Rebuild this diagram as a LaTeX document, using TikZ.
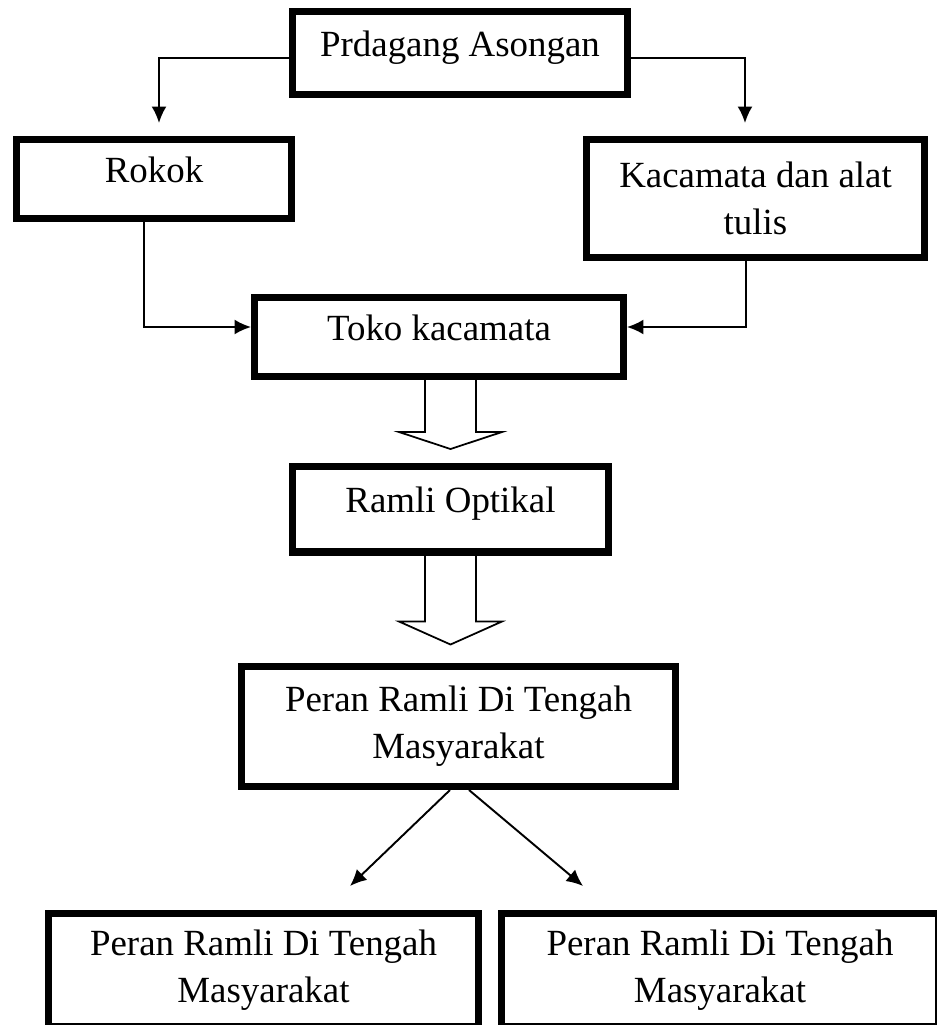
\documentclass[tikz,border=0pt]{standalone}
\usepackage{fontspec}
\setmainfont{Liberation Serif}
\usetikzlibrary{arrows.meta,calc}

\tikzset{
  box/.style={draw, rectangle, line width=4pt, inner sep=0pt, align=center,
    font=\fontsize{21}{26.7}\selectfont},
  oneline/.style={text height=0.7em, text depth=0.33em},
  conn/.style={line width=1.1pt, -{Latex[length=0.33cm,width=0.3cm]}},
  hollow/.style={line width=1pt},
}

\begin{document}
\begin{tikzpicture}[x=0.02cm, y=-0.02cm]
    \useasboundingbox (0,0) rectangle (937,1025);
    \clip (0,0) rectangle (937,1025);

    \node[box, oneline, minimum width=6.7cm, minimum height=1.66cm] (asongan) at (460,53) {Prdagang Asongan};
    \node[box, oneline, minimum width=5.5cm, minimum height=1.58cm] (rokok) at (154,179) {Rokok};
    \node[box, minimum width=6.76cm, minimum height=2.36cm] (kaca) at (755.5,198.5) {Kacamata dan alat\\tulis};
    \node[box, oneline, minimum width=7.38cm, minimum height=1.58cm] (toko) at (439,337) {Toko kacamata};
    \node[box, oneline, minimum width=6.32cm, minimum height=1.72cm] (ramli) at (450.5,509) {Ramli Optikal};
    \node[box, minimum width=8.68cm, minimum height=2.4cm] (peran) at (458.5,726.5) {Peran Ramli Di Tengah\\Masyarakat};
    \node[box, minimum width=8.6cm, minimum height=2.27cm] (peranL) at (263.5,970.25) {Peran Ramli Di Tengah\\Masyarakat};
    \node[box, minimum width=8.74cm, minimum height=2.27cm] (peranR) at (720,970.25) {Peran Ramli Di Tengah\\Masyarakat};

    % arrows from the top box
    \coordinate (jL) at (159,58);
    \coordinate (jR) at (745,58);
    \coordinate (tipL) at (159,123);
    \coordinate (tipR) at (745,123);
    \draw[conn] (asongan.west |- jL) -| (tipL);
    \draw[conn] (asongan.east |- jR) -| (tipR);

    % into the shop
    \coordinate (kL) at (144,327);
    \coordinate (kR) at (746,327);
    \draw[conn] (rokok.south -| kL) |- (toko.west |- kL);
    \draw[conn] (kaca.south -| kR) |- (toko.east |- kR);

    % hollow block arrows
    \draw[hollow] ($(toko.south -| ramli.south)+(-25.5,0)$) -- ++(0,52) -- ++(-26,0) -- ++(51.5,17)
        -- ++(51.5,-17) -- ++(-26,0) -- ++(0,-52);
    \draw[hollow] ($(ramli.south)+(-25.5,0)$) -- ++(0,66) -- ++(-26,0) -- ++(51.5,23)
        -- ++(51.5,-23) -- ++(-26,0) -- ++(0,-66);

    % split at the bottom
    \coordinate (dL) at (350,886);
    \coordinate (dR) at (583,886);
    \draw[conn] ($(peran.south)+(-8.5,0)$) -- (dL);
    \draw[conn] ($(peran.south)+(10.5,0)$) -- (dR);

\end{tikzpicture}
\end{document}
